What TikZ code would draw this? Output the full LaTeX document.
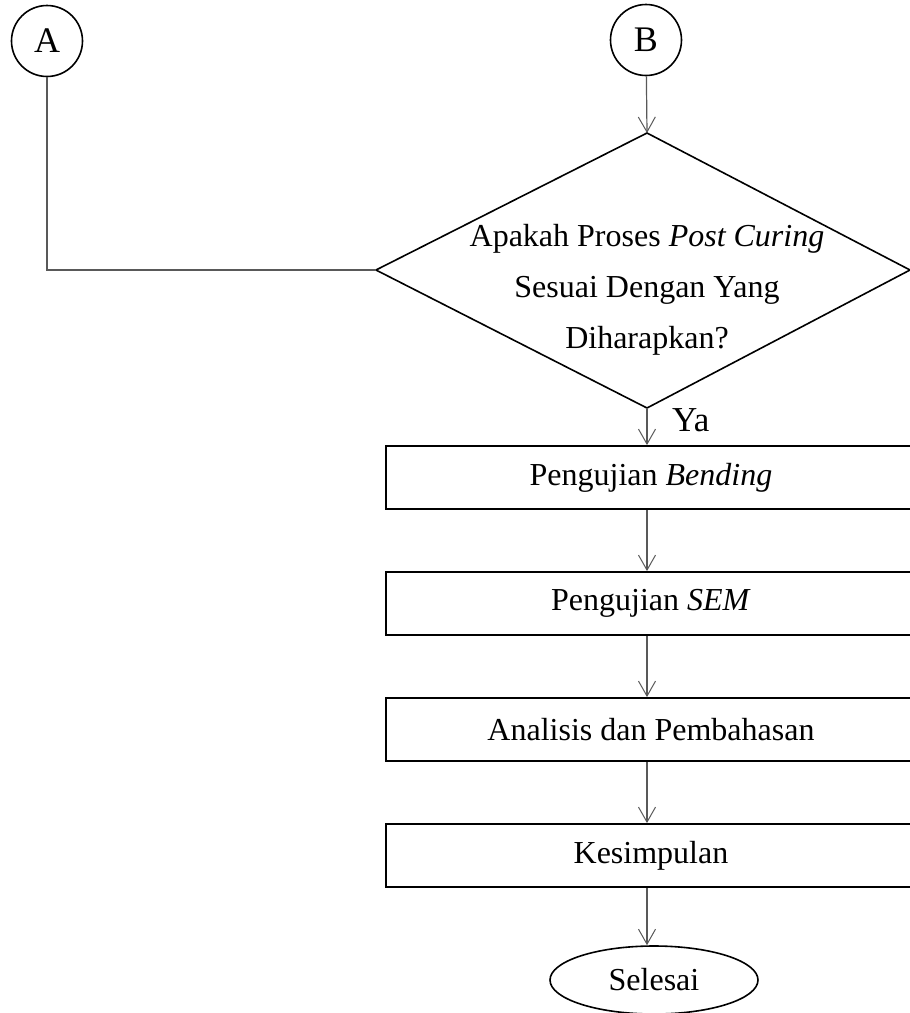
\documentclass[tikz,border=0pt]{standalone}
\usepackage{fontspec}
\setmainfont{Liberation Serif}
\usetikzlibrary{arrows.meta,shapes.geometric}
\begin{document}
\begin{tikzpicture}[x=0.5pt,y=-0.5pt,
  every node/.style={font=\fontsize{16}{25.5}\selectfont},
  conn/.style={draw=black!65, line width=0.6pt},
  arr/.style={conn, -{Straight Barb[length=7.5pt,width=8.5pt,line width=0.5pt]}},
  proc/.style={draw, line width=0.9pt, minimum width=265pt, minimum height=31.5pt, inner sep=0pt},
  conncirc/.style={circle, draw, line width=0.8pt, minimum size=35.5pt, inner sep=0pt, font=\fontsize{18}{22}\selectfont},
  term/.style={ellipse, draw, line width=0.8pt, minimum width=104pt, minimum height=34pt, inner sep=0pt}]
\useasboundingbox (0,0) rectangle (910,1013);
\clip (0,0) rectangle (910,1013);
\node[conncirc] (A) at (47,41) {A};
\node[conncirc] (B) at (646,40) {B};
\coordinate (dt) at (647,133);
\coordinate (dl) at (376,270);
\coordinate (db) at (647,408);
\coordinate (dr) at (910,270);
\draw[line width=0.8pt] (dt) -- (dr) -- (db) -- (dl) -- cycle;
\node[align=center] (q) at (647,290) {Apakah Proses \textit{Post Curing}\\Sesuai Dengan Yang\\Diharapkan?};
\node[proc] (p1) at (651,477.5) {Pengujian \textit{Bending}};
\node[proc] (p2) at (651,603.5) {Pengujian \textit{SEM}};
\node[proc] (p3) at (651,729.5) {Analisis dan Pembahasan};
\node[proc] (p4) at (651,855.5) {Kesimpulan};
\node[term] (end) at (654,980) {Selesai};
\node[anchor=west, font=\fontsize{17.5}{21}\selectfont] (ya) at (665,420) {Ya};
\draw[arr] (B) -- (dt);
\draw[arr] (db) -- (db |- p1.north);
\draw[arr] (p1.south -| db) -- (db |- p2.north);
\draw[arr] (p2.south -| db) -- (db |- p3.north);
\draw[arr] (p3.south -| db) -- (db |- p4.north);
\draw[arr] (p4.south -| db) -- (db |- end.north);
\draw[conn, line width=0.8pt] (A) |- (dl);
\end{tikzpicture}
\end{document}
